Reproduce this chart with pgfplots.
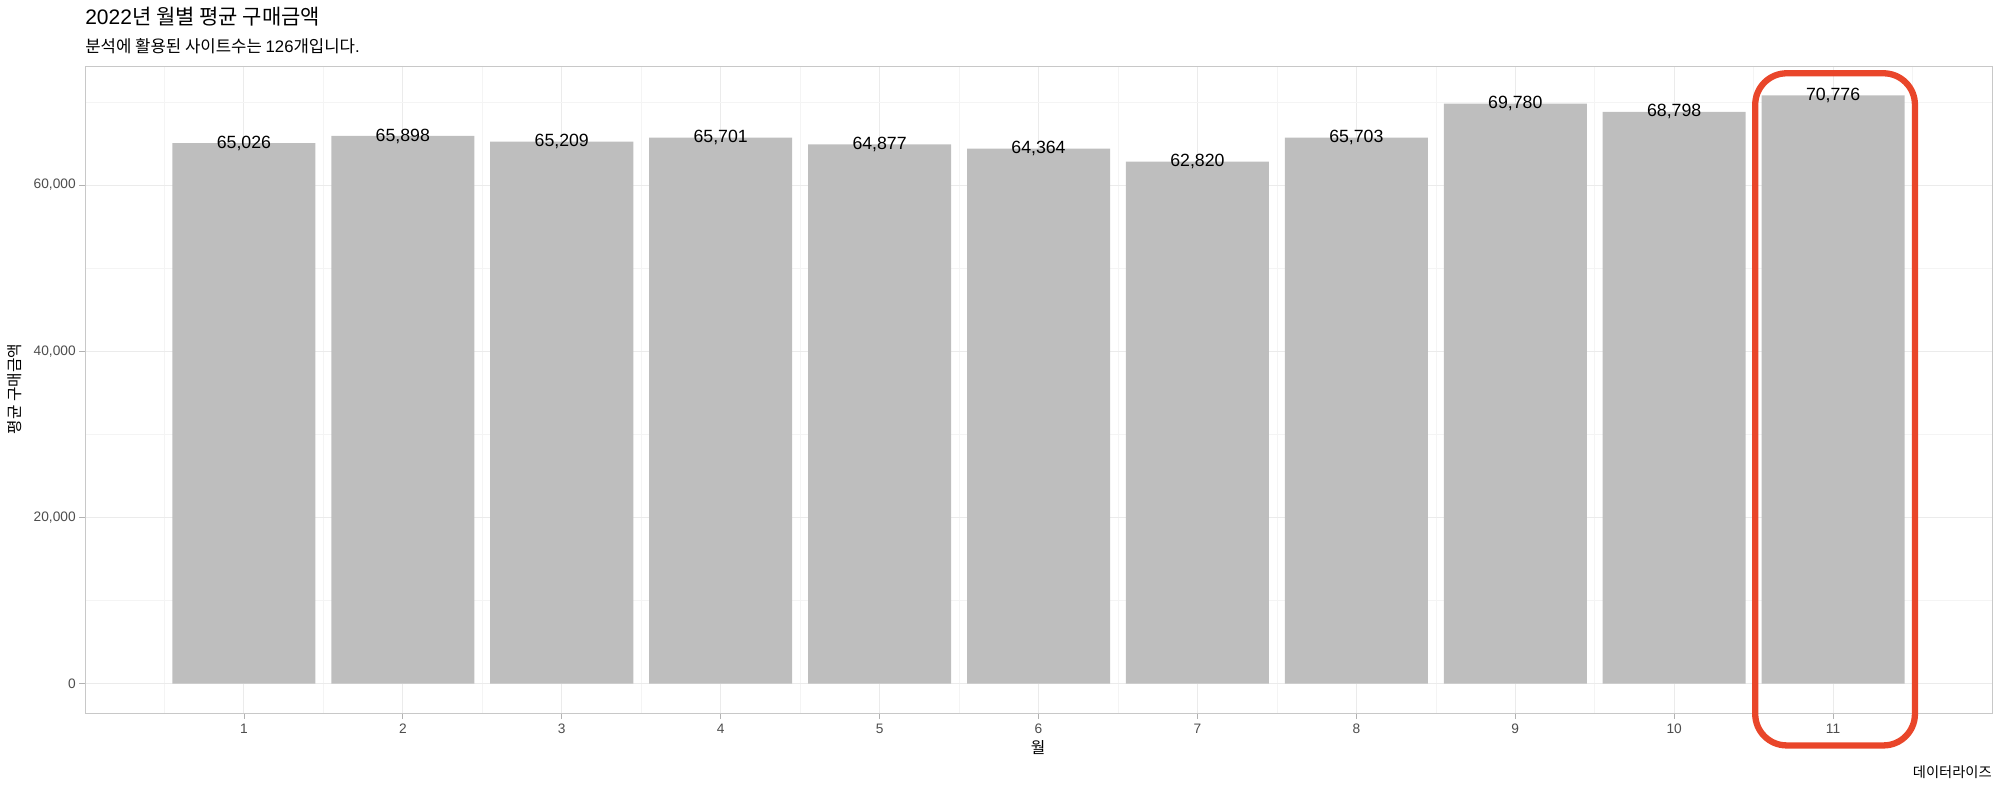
\documentclass[border=0pt]{standalone}
\usepackage{pgfplots}
\pgfplotsset{compat=1.18}
\usepackage{fontspec}
\setmainfont{Liberation Sans}
\newfontfamily\kr{Noto Sans CJK KR}
\definecolor{barfill}{HTML}{BEBEBE}
\definecolor{gridmaj}{HTML}{EBEBEB}
\definecolor{gridmin}{HTML}{F4F4F4}
\definecolor{frame}{HTML}{C8C8C8}
\definecolor{ticktxt}{HTML}{4D4D4D}
\definecolor{hilite}{HTML}{E9462A}

\pgfplotstableread{
month value
1  65026
2  65898
3  65209
4  65701
5  64877
6  64364
7  62820
8  65703
9  69780
10 68798
11 70776
}\monthly

\begin{document}
\begin{tikzpicture}
% 1 px of the 2000x789 reference = 0.7pt
\begin{scope}[x=0.7pt,y=-0.7pt]
  \path[use as bounding box] (0,0) rectangle (2000,789);
  \node[anchor=base west,inner sep=0] at (85,25) {\fontsize{14.7}{17}\selectfont 2022{\kr 년 월별 평균 구매금액}};
  \node[anchor=base west,inner sep=0] at (85,53) {\fontsize{11.7}{14}\selectfont {\kr 분석에 활용된 사이트수는 }126{\kr 개입니다}.};
  \node[rotate=90,inner sep=0] at (15,389) {\fontsize{11}{13}\selectfont\kr 평균 구매금액};
  \node[inner sep=0] at (1038,748) {\fontsize{11}{13}\selectfont\kr 월};
  \node[anchor=base east,inner sep=0] at (1992,777) {\fontsize{10}{12}\selectfont\kr 데이터라이즈};
\end{scope}
\begin{axis}[
    at={(59.5pt,-499.1pt)}, anchor=south west,
    width=1334.9pt, height=452.9pt, scale only axis,
    xmin=0, xmax=12,
    ymin=-3539, ymax=74315,
    xtick={1,...,11},
    minor xtick={0.5,1.5,...,11.5},
    ytick={0,20000,40000,60000},
    minor ytick={10000,30000,50000,70000},
    grid=both,
    major grid style={draw=gridmaj, line width=0.6pt},
    minor grid style={draw=gridmin, line width=0.4pt},
    axis line style={draw=frame, line width=0.6pt},
    tick pos=left, tick align=outside,
    major tick length=4pt, minor tick length=0pt,
    major tick style={draw=gray!60, line width=0.5pt},
    scaled y ticks=false,
    /pgf/number format/.cd, fixed, precision=0, 1000 sep={,}, assume math mode=true,
    /pgfplots/.cd,
    ticklabel style={font=\fontsize{9.6}{11}\selectfont, text=ticktxt},
    yticklabel style={xshift=1pt},
    ybar, bar width=0.9,
    nodes near coords,
    nodes near coords style={anchor=center, font=\fontsize{12.4}{14}\selectfont, text=black,
        /pgf/number format/.cd, fixed, precision=0, 1000 sep={,}, assume math mode=true},
    clip=false,
]
\addplot[fill=barfill, draw=none] table[x=month, y=value] {\monthly};
\draw[hilite, line width=4.4pt, rounded corners=22pt]
    (axis cs:10.51,73440) rectangle (axis cs:11.515,-7440);
\end{axis}
\end{tikzpicture}
\end{document}
